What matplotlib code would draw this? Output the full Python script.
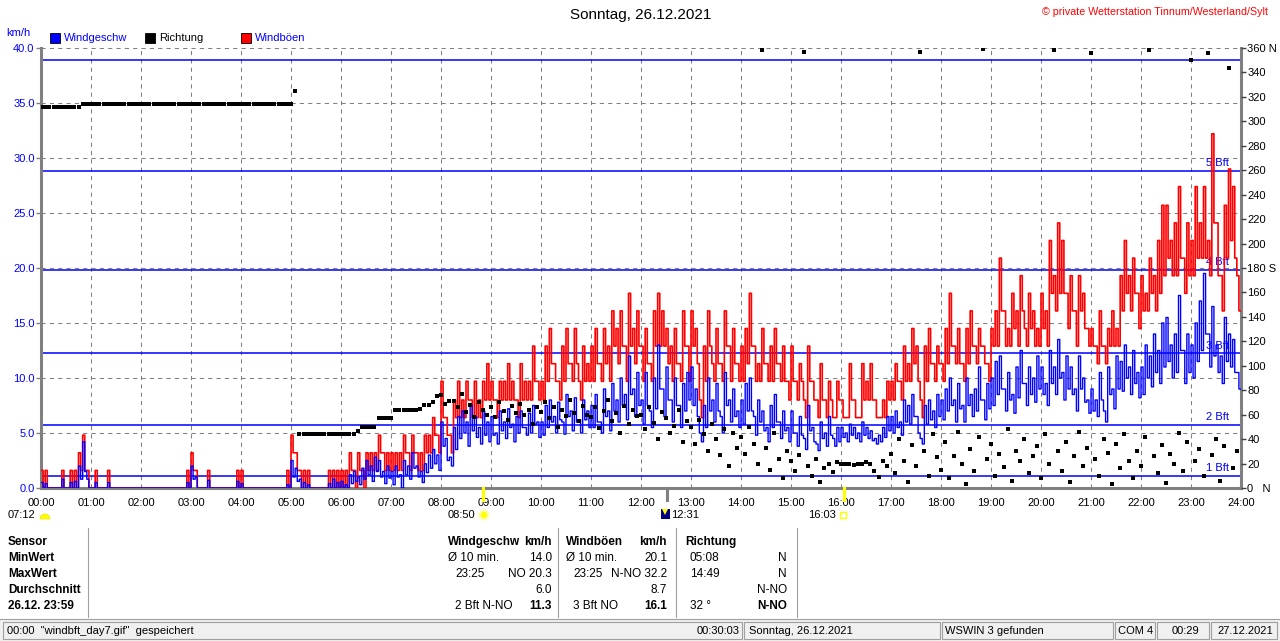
import numpy as np
import matplotlib
matplotlib.use("Agg")
import matplotlib.pyplot as plt
from matplotlib.patches import Rectangle, Wedge, Circle
from matplotlib import font_manager

# every 5-minute slot: its peak and its trough, one row per hour (00:00 .. 23:55)
speed_peak = [
    0.5, 0.4, 0, 0, 0, 0.8, 0, 0.5, 0.6, 2.0, 4.2, 0.8,
    0, 0.5, 0, 0, 0.5, 0, 0, 0, 0, 0, 0, 0,
    0, 0, 0, 0, 0, 0, 0, 0, 0, 0, 0, 0.5,
    2.0, 1.0, 0, 0, 0.7, 0, 0, 0, 0, 0, 0, 0.6,
    0.4, 0, 0, 0, 0, 0, 0, 0, 0, 0, 0, 0.3,
    2.5, 1.8, 0.8, 0.5, 0.3, 0, 0, 0, 0, 0.4, 0.8, 0.5,
    0.6, 0.3, 1.2, 1.5, 1.0, 1.8, 2.5, 2.0, 2.8, 2.5, 1.5, 2.0,
    1.5, 2.0, 1.2, 2.5, 2.0, 3.2, 2.0, 1.5, 2.2, 3.0, 3.5, 3.0,
    6.0, 4.5, 2.8, 5.5, 6.5, 7.0, 6.0, 7.5, 6.5, 5.5, 7.0, 6.0,
    6.5, 5.0, 7.0, 6.0, 7.2, 5.8, 6.5, 7.0, 5.5, 6.8, 7.5, 6.0,
    6.0, 7.5, 8.0, 6.5, 7.8, 6.0, 8.5, 7.0, 8.2, 6.2, 8.0, 7.0,
    7.5, 8.5, 6.0, 9.0, 7.0, 9.5, 8.0, 10.0, 8.5, 12.0, 9.0, 10.5,
    8.0, 10.5, 7.0, 10.0, 13.0, 9.0, 11.0, 8.0, 10.0, 7.5, 9.5, 10.5,
    11.0, 9.0, 5.0, 7.5, 10.0, 8.0, 9.5, 6.5, 10.5, 8.0, 9.0, 7.0,
    8.0, 9.5, 10.0, 6.5, 8.0, 7.0, 5.5, 7.5, 8.5, 6.0, 7.0, 5.5,
    7.0, 5.0, 6.5, 4.5, 7.5, 5.5, 4.0, 6.0, 5.0, 6.5, 4.5, 5.5,
    5.5, 5.0, 5.8, 5.5, 5.0, 6.0, 5.5, 5.2, 4.5, 4.8, 5.5, 6.5,
    6.5, 7.0, 6.0, 8.0, 7.5, 8.5, 6.5, 4.5, 7.5, 8.0, 7.0, 8.5,
    8.0, 9.0, 10.0, 8.0, 9.5, 7.5, 10.0, 8.5, 9.0, 11.0, 8.0, 9.5,
    10.0, 11.5, 12.0, 9.0, 10.5, 8.5, 11.0, 12.5, 9.5, 11.0, 10.0, 12.0,
    11.0, 9.5, 12.5, 11.0, 13.5, 10.5, 12.0, 11.0, 9.0, 12.0, 10.0, 8.0,
    9.0, 8.0, 10.5, 7.0, 11.0, 9.0, 12.0, 11.5, 13.0, 11.0, 12.5, 10.5,
    11.0, 13.0, 12.0, 14.0, 12.5, 15.0, 15.5, 13.0, 14.0, 17.5, 12.5, 14.0,
    13.0, 15.0, 17.0, 19.5, 14.0, 16.5, 13.0, 12.0, 15.5, 14.0, 13.5, 10.5,
]
speed_trough = [
    0, 0, 0, 0, 0, 0, 0, 0, 0, 0.8, 1.5, 0,
    0, 0, 0, 0, 0, 0, 0, 0, 0, 0, 0, 0,
    0, 0, 0, 0, 0, 0, 0, 0, 0, 0, 0, 0,
    0.8, 0, 0, 0, 0, 0, 0, 0, 0, 0, 0, 0,
    0, 0, 0, 0, 0, 0, 0, 0, 0, 0, 0, 0,
    1.0, 0.6, 0, 0, 0, 0, 0, 0, 0, 0, 0, 0,
    0, 0, 0.4, 0.6, 0.3, 0.8, 1.2, 0.6, 1.5, 1.0, 0.4, 0.9,
    0.3, 1.0, 0, 1.2, 0.8, 1.8, 1.0, 0.5, 1.4, 1.8, 2.2, 1.6,
    3.8, 2.5, 2.0, 3.5, 4.5, 5.0, 3.8, 5.2, 4.6, 4.0, 4.8, 4.2,
    4.8, 4.0, 5.2, 4.5, 5.5, 4.2, 5.0, 5.5, 4.8, 5.0, 5.8, 4.6,
    4.8, 5.5, 6.0, 5.0, 6.2, 4.9, 6.5, 5.2, 6.0, 5.0, 6.2, 5.5,
    5.5, 6.0, 5.0, 6.5, 5.2, 7.0, 6.0, 7.5, 6.2, 8.5, 6.5, 7.5,
    5.8, 7.5, 5.5, 7.2, 9.0, 6.5, 8.0, 6.0, 7.5, 5.5, 7.0, 8.0,
    7.5, 6.5, 4.2, 5.5, 7.0, 6.0, 7.0, 5.0, 7.5, 6.0, 6.5, 5.5,
    5.8, 7.0, 7.0, 4.8, 6.0, 5.2, 4.2, 5.5, 6.0, 4.5, 5.2, 4.2,
    5.0, 3.8, 4.8, 3.5, 5.2, 4.2, 3.4, 4.5, 3.8, 4.8, 3.8, 4.2,
    4.6, 4.2, 4.8, 4.5, 4.2, 4.8, 4.5, 4.3, 4.0, 4.2, 4.6, 5.2,
    5.0, 5.5, 4.8, 6.0, 5.8, 6.5, 5.0, 4.0, 5.8, 6.2, 5.5, 6.5,
    6.2, 7.0, 7.5, 6.0, 7.2, 6.0, 7.5, 6.5, 7.0, 8.0, 6.2, 7.2,
    7.5, 8.5, 9.0, 7.0, 8.0, 6.8, 8.2, 9.5, 7.5, 8.5, 7.8, 9.0,
    8.5, 7.5, 9.5, 8.5, 10.0, 8.0, 9.0, 8.5, 7.0, 9.0, 7.8, 6.8,
    7.0, 6.5, 8.0, 6.0, 8.5, 7.2, 9.0, 8.8, 10.0, 8.5, 9.5, 8.2,
    8.5, 10.0, 9.2, 10.5, 9.5, 11.0, 11.5, 10.0, 10.5, 12.5, 9.5, 10.5,
    10.0, 11.5, 12.5, 14.0, 11.0, 12.0, 10.5, 9.5, 11.5, 11.0, 10.5, 9.0,
]
gust_peak = [
    1.6, 1.6, 0, 0, 0, 1.6, 0, 1.6, 1.6, 3.2, 4.8, 1.6,
    0, 1.6, 0, 0, 1.6, 0, 0, 0, 0, 0, 0, 0,
    0, 0, 0, 0, 0, 0, 0, 0, 0, 0, 0, 1.6,
    3.2, 1.6, 0, 0, 1.6, 0, 0, 0, 0, 0, 0, 1.6,
    1.6, 0, 0, 0, 0, 0, 0, 0, 0, 0, 0, 1.6,
    4.8, 3.2, 1.6, 1.6, 1.6, 0, 0, 0, 0, 1.6, 1.6, 1.6,
    1.6, 1.6, 3.2, 1.6, 3.2, 1.6, 3.2, 3.2, 3.2, 4.8, 3.2, 3.2,
    3.2, 3.2, 3.2, 4.8, 3.2, 4.8, 3.2, 3.2, 4.8, 4.8, 6.4, 4.8,
    9.7, 6.4, 4.8, 8.0, 9.7, 8.0, 9.7, 8.0, 9.7, 8.0, 9.7, 11.3,
    9.7, 8.0, 9.7, 9.7, 11.3, 9.7, 8.0, 11.3, 9.7, 9.7, 12.9, 9.7,
    9.7, 12.9, 14.5, 11.3, 9.7, 12.9, 14.5, 11.3, 14.5, 9.7, 12.9, 11.3,
    12.9, 14.5, 11.3, 14.5, 12.9, 16.1, 14.5, 16.1, 12.9, 17.7, 14.5, 16.1,
    12.9, 14.5, 11.3, 16.1, 17.7, 16.1, 14.5, 12.9, 14.5, 11.3, 16.1, 12.9,
    16.1, 14.5, 8.0, 12.9, 16.1, 11.3, 14.5, 11.3, 16.1, 12.9, 14.5, 11.3,
    12.9, 14.5, 17.7, 12.9, 11.3, 14.5, 11.3, 12.9, 14.5, 11.3, 12.9, 9.7,
    12.9, 9.7, 11.3, 8.0, 12.9, 9.7, 8.0, 11.3, 8.0, 9.7, 6.4, 9.7,
    8.0, 6.4, 11.3, 8.0, 6.4, 11.3, 9.7, 11.3, 8.0, 6.4, 8.0, 9.7,
    9.7, 11.3, 9.7, 12.9, 11.3, 14.5, 12.9, 8.0, 12.9, 14.5, 11.3, 12.9,
    11.3, 14.5, 17.7, 12.9, 14.5, 11.3, 14.5, 16.1, 12.9, 14.5, 12.9, 11.3,
    14.5, 16.1, 20.9, 16.1, 14.5, 17.7, 16.1, 19.3, 14.5, 17.7, 16.1, 14.5,
    17.7, 16.1, 22.5, 19.3, 24.1, 22.5, 17.7, 19.3, 16.1, 19.3, 17.7, 14.5,
    14.5, 12.9, 16.1, 12.9, 14.5, 16.1, 14.5, 19.3, 22.5, 19.3, 20.9, 17.7,
    19.3, 17.7, 20.9, 19.3, 22.5, 25.7, 25.7, 22.5, 24.1, 27.4, 20.9, 24.1,
    22.5, 27.4, 24.1, 27.4, 22.5, 32.2, 24.1, 19.3, 25.7, 29.0, 27.4, 19.3,
]
gust_trough = [
    0, 0, 0, 0, 0, 0, 0, 0, 0, 1.6, 1.6, 0,
    0, 0, 0, 0, 0, 0, 0, 0, 0, 0, 0, 0,
    0, 0, 0, 0, 0, 0, 0, 0, 0, 0, 0, 0,
    1.6, 0, 0, 0, 0, 0, 0, 0, 0, 0, 0, 0,
    0, 0, 0, 0, 0, 0, 0, 0, 0, 0, 0, 0,
    3.2, 1.6, 0, 0, 0, 0, 0, 0, 0, 0, 0, 0,
    0, 0, 1.6, 0, 1.6, 0, 1.6, 1.6, 1.6, 3.2, 1.6, 1.6,
    1.6, 1.6, 1.6, 3.2, 1.6, 3.2, 1.6, 1.6, 3.2, 3.2, 4.8, 3.2,
    6.4, 4.8, 3.2, 6.4, 6.4, 6.4, 8.0, 6.4, 6.4, 6.4, 8.0, 8.0,
    8.0, 6.4, 8.0, 8.0, 8.0, 8.0, 6.4, 8.0, 8.0, 8.0, 9.7, 8.0,
    8.0, 9.7, 11.3, 9.7, 8.0, 9.7, 11.3, 9.7, 11.3, 8.0, 9.7, 9.7,
    9.7, 11.3, 9.7, 11.3, 9.7, 12.9, 11.3, 12.9, 9.7, 12.9, 11.3, 12.9,
    9.7, 11.3, 9.7, 12.9, 12.9, 12.9, 11.3, 9.7, 11.3, 9.7, 12.9, 9.7,
    12.9, 11.3, 6.4, 9.7, 12.9, 9.7, 11.3, 9.7, 12.9, 9.7, 11.3, 9.7,
    9.7, 11.3, 12.9, 9.7, 9.7, 11.3, 9.7, 9.7, 11.3, 9.7, 9.7, 8.0,
    9.7, 8.0, 9.7, 6.4, 9.7, 8.0, 6.4, 8.0, 6.4, 8.0, 6.4, 8.0,
    6.4, 6.4, 8.0, 6.4, 6.4, 8.0, 8.0, 8.0, 6.4, 6.4, 6.4, 8.0,
    8.0, 9.7, 8.0, 9.7, 9.7, 11.3, 9.7, 6.4, 9.7, 11.3, 9.7, 11.3,
    9.7, 11.3, 12.9, 11.3, 11.3, 9.7, 11.3, 12.9, 11.3, 12.9, 11.3, 9.7,
    12.9, 12.9, 16.1, 12.9, 12.9, 14.5, 12.9, 16.1, 12.9, 14.5, 12.9, 12.9,
    14.5, 12.9, 17.7, 16.1, 17.7, 17.7, 14.5, 16.1, 12.9, 16.1, 14.5, 12.9,
    12.9, 11.3, 12.9, 11.3, 12.9, 12.9, 12.9, 16.1, 17.7, 16.1, 17.7, 14.5,
    16.1, 16.1, 17.7, 16.1, 17.7, 19.3, 20.9, 19.3, 19.3, 20.9, 17.7, 19.3,
    19.3, 20.9, 20.9, 20.9, 19.3, 24.1, 19.3, 16.1, 20.9, 22.5, 20.9, 16.1,
]
direction = [
    312, 312, 312, 312, 312, 312, 312, 312, 312, 312, 314, 314,
    314, 314, 314, 314, 314, 314, 314, 314, 314, 314, 314, 314,
    314, 314, 314, 314, 314, 314, 314, 314, 314, 314, 314, 314,
    314, 314, 314, 314, 314, 314, 314, 314, 314, 314, 314, 314,
    314, 314, 314, 314, 314, 314, 314, 314, 314, 314, 314, 314,
    314, 325, 44, 44, 44, 44, 44, 44, 44, 44, 44, 44,
    44, 44, 44, 44, 47, 50, 50, 50, 50, 57, 57, 57,
    57, 64, 64, 64, 64, 64, 64, 65, 68, 68, 70, 75,
    76, 69, 71, 71, 66, 77, 62, 68, 58, 70, 64, 60,
    66, 58, 70, 63, 56, 67, 61, 69, 60, 64, 52, 66,
    62, 70, 57, 66, 50, 64, 59, 72, 61, 55, 67, 60,
    58, 66, 49, 63, 72, 55, 61, 45, 67, 52, 64, 59,
    60, 48, 66, 53, 40, 62, 57, 45, 51, 64, 38, 55,
    50, 36, 56, 44, 30, 52, 40, 27, 48, 18, 45, 33,
    42, 28, 50, 36, 20, 358, 33, 15, 45, 24, 8, 30,
    22, 14, 27, 357, 18, 10, 24, 5, 16, 20, 13, 21,
    20, 20, 20, 19, 20, 20, 21, 20, 14, 9, 22, 18,
    28, 12, 40, 22, 5, 35, 18, 357, 30, 10, 44, 25,
    15, 38, 8, 26, 46, 20, 3, 32, 14, 42, 359, 24,
    36, 10, 28, 17, 48, 6, 30, 22, 40, 12, 26, 34,
    8, 44, 20, 358, 30, 14, 38, 5, 26, 46, 18, 33,
    356, 24, 10, 40, 29, 3, 36, 16, 44, 22, 8, 30,
    18, 42, 358, 26, 12, 35, 4, 28, 20, 45, 14, 38,
    350, 22, 32, 10, 356, 27, 40, 6, 34, 344, 16, 30,
]
hour_labels = ["%02d:00" % h for h in range(25)]
speed_ticks = [0, 5, 10, 15, 20, 25, 30, 35, 40]
dir_ticks = [0, 20, 40, 60, 80, 100, 120, 140, 160, 180, 200, 220, 240, 260, 280, 300, 320, 340, 360]
dir_labels = ["0   N", "20", "40", "60", "80", "100", "120", "140", "160", "180 S",
              "200", "220", "240", "260", "280", "300", "320", "340", "360 N"]
bft_levels = [1.08, 5.76, 12.24, 19.8, 28.8, 38.88]
bft_names = ["1 Bft", "2 Bft", "3 Bft", "4 Bft", "5 Bft", ""]
sun_times = [8 + 50 / 60, 12 + 31 / 60, 16 + 3 / 60]

plt.rcParams['font.family'] = ['Liberation Sans', 'DejaVu Sans']
names = {f.name for f in font_manager.fontManager.ttflist}
tab_font = 'Liberation Sans Narrow' if 'Liberation Sans Narrow' in names else 'Liberation Sans'

W, H = 1280, 641
BLUE = '#0000ff'
GRAY = '#808080'
fig = plt.figure(figsize=(12.8, 6.41), dpi=100)
fig.patch.set_facecolor('white')

# overlay in pixel coordinates for title, legend, table, status bar
ov = fig.add_axes([0, 0, 1, 1])
ov.set_xlim(0, W)
ov.set_ylim(H, 0)
ov.axis('off')

ov.text(641, 15, "Sonntag, 26.12.2021", ha='center', va='center', fontsize=11)
ov.text(1268, 12, "\u00a9 private Wetterstation Tinnum/Westerland/Sylt", ha='right', va='center',
        fontsize=7.7, color='#ff0000')
ov.text(6, 33, "km/h", color=BLUE, fontsize=8, va='center')
for x0, col, lab, tcol in [(50, BLUE, "Windgeschw", BLUE), (145, '#000000', "Richtung", '#000000'),
                           (241, '#ff0000', "Windb\u00f6en", BLUE)]:
    ov.add_patch(Rectangle((x0, 33), 10, 10, fc=col, ec='#000000', lw=0.6))
    ov.text(x0 + 14, 38, lab, color=tcol, fontsize=8, va='center')

# sunrise / noon / sunset row
ov.text(8, 515, "07:12", fontsize=8, va='center')
ov.add_patch(Wedge((45, 519), 5, 180, 360, fc='#ffff00', ec='#e8e800', lw=0.5))
ov.text(448, 515, "08:50", fontsize=8, va='center')
ov.add_patch(Circle((484, 515), 5.5, fc='#ffffb0', ec='none'))
ov.add_patch(Circle((484, 515), 3.2, fc='#ffff00', ec='none'))
ov.add_patch(Rectangle((661, 509), 9, 10, fc='#000080', ec='none'))
ov.plot(665, 512, marker='v', ms=4, color='#ffff00', mew=0)
ov.text(671, 515, "12:31", fontsize=8, va='center')
ov.text(808, 515, "16:03", fontsize=8, va='center')
ov.add_patch(Rectangle((839.5, 511.5), 6, 6, fc='none', ec='#ffff00', lw=1))

# summary table
rows = [542, 558, 574, 590, 606]
for y, lab in zip(rows, ["Sensor", "MinWert", "MaxWert", "Durchschnitt", "26.12. 23:59"]):
    ov.text(8, y, lab, fontsize=8.5, fontweight='bold', va='center', family=tab_font)
for xs in [88, 558, 676, 797]:
    ov.plot([xs, xs], [528, 617], color='#a0a0a0', lw=0.8)
cells = [
    (448, 0, "Windgeschw", 'left', True), (552, 0, "km/h", 'right', True),
    (448, 1, "\u00d8 10 min.", 'left', False), (552, 1, "14.0", 'right', False),
    (455, 2, "23:25", 'left', False), (552, 2, "NO 20.3", 'right', False),
    (552, 3, "6.0", 'right', False),
    (455, 4, "2 Bft N-NO", 'left', False), (552, 4, "11.3", 'right', True),
    (566, 0, "Windb\u00f6en", 'left', True), (667, 0, "km/h", 'right', True),
    (566, 1, "\u00d8 10 min.", 'left', False), (667, 1, "20.1", 'right', False),
    (573, 2, "23:25", 'left', False), (667, 2, "N-NO 32.2", 'right', False),
    (667, 3, "8.7", 'right', False),
    (573, 4, "3 Bft NO", 'left', False), (667, 4, "16.1", 'right', True),
    (685, 0, "Richtung", 'left', True),
    (690, 1, "05:08", 'left', False), (787, 1, "N", 'right', False),
    (690, 2, "14:49", 'left', False), (787, 2, "N", 'right', False),
    (787, 3, "N-NO", 'right', False),
    (690, 4, "32 \u00b0", 'left', False), (787, 4, "N-NO", 'right', True),
]
for x, r, s, ha, bold in cells:
    ov.text(x, rows[r], s, ha=ha, va='center', fontsize=8.5, family=tab_font,
            fontweight='bold' if bold else 'normal')

# status bar
ov.add_patch(Rectangle((0, 619), W, 22, fc='#f0f0f0', ec='none'))
ov.plot([0, W], [619, 619], color='#a0a0a0', lw=0.8)
for x0, x1 in [(3, 742), (744, 940), (942, 1113), (1115, 1155), (1157, 1209), (1211, 1277)]:
    ov.add_patch(Rectangle((x0, 622), x1 - x0, 17, fc='none', ec='#a0a0a0', lw=0.8))
status = [(7, '00:00  "windbft_day7.gif"  gespeichert', 'left'), (740, "00:30:03", 'right'),
          (749, "Sonntag, 26.12.2021", 'left'), (945, "WSWIN 3 gefunden", 'left'),
          (1118, "COM 4", 'left'), (1185, "00:29", 'center'), (1217, "27.12.2021", 'left')]
for x, s, ha in status:
    ov.text(x, 631, s, ha=ha, va='center', fontsize=8)

# main chart: each 5-minute slot drawn as peak then trough
n = len(speed_peak)
t2 = np.arange(2 * n + 1) / 24.0
sp2 = np.column_stack([speed_peak, speed_trough]).ravel()
gu2 = np.column_stack([gust_peak, gust_trough]).ravel()

ax = fig.add_axes([41 / W, (H - 488) / H, 1200 / W, 440 / H])
ax.set_axisbelow(True)
ax.grid(True, color=GRAY, ls=(0, (4, 4)), lw=0.75)
for lv, nm in zip(bft_levels, bft_names):
    ax.axhline(lv, color=BLUE, lw=1.1, zorder=2)
    if nm:
        ax.text(23.76, lv + 0.25, nm, ha='right', va='bottom', color=BLUE, fontsize=8, zorder=2.5)
ax.step(t2, np.append(gu2, gu2[-1]), where='post', color='#ff0000', lw=1.2, zorder=3)
ax.step(t2, np.append(sp2, sp2[-1]), where='post', color=BLUE, lw=1.0, zorder=4)
for st, c in zip(sun_times, ['#ffff00', GRAY, '#ffff00']):
    ax.plot([st, st], [0, -1.1], color=c, lw=2.2, clip_on=False, zorder=6)

ax.set_xlim(0, 24)
ax.set_ylim(0, 40)
ax.set_xticks(range(25))
ax.set_xticklabels(hour_labels, fontsize=8)
ax.set_yticks(speed_ticks)
ax.set_yticklabels(["%.1f" % v for v in speed_ticks], fontsize=8, color=BLUE)
ax.tick_params(axis='x', length=0, pad=7)
ax.tick_params(axis='y', length=3.6, width=1, color=GRAY, pad=1)
ax.spines['top'].set_visible(False)
for s in ['left', 'bottom', 'right']:
    ax.spines[s].set_color(GRAY)
    ax.spines[s].set_linewidth(2.2)

ax2 = ax.twinx()
ax2.set_ylim(0, 360)
ax2.plot(np.arange(n) / 12.0, direction, 's', ms=2.5, mew=0, color='#000000', zorder=5)
ax2.set_yticks(dir_ticks)
ax2.set_yticklabels(dir_labels, fontsize=8)
ax2.tick_params(axis='y', length=3.6, width=1, color='#404040', pad=1)
for s in ax2.spines.values():
    s.set_visible(False)

fig.savefig("out.png", dpi=100, facecolor='white')
